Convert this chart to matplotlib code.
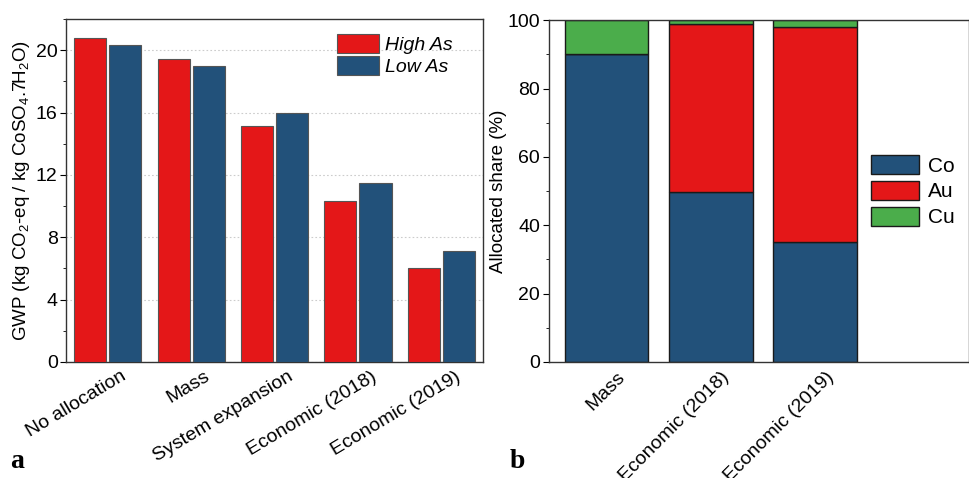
import matplotlib
matplotlib.use("Agg")
import matplotlib.pyplot as plt
import matplotlib.transforms as mtransforms
import numpy as np
from matplotlib.ticker import MultipleLocator

plt.rcParams['font.family'] = ['Liberation Sans', 'DejaVu Sans']
plt.rcParams['mathtext.fontset'] = 'custom'
plt.rcParams['mathtext.rm'] = 'Liberation Sans'
plt.rcParams['mathtext.it'] = 'Liberation Sans:italic'

# ---- data ----
methods_a = ["No allocation", "Mass", "System expansion", "Economic (2018)", "Economic (2019)"]
high_as = [20.8, 19.45, 15.15, 10.3, 6.0]
low_as = [20.3, 19.0, 16.0, 11.5, 7.1]

methods_b = ["Mass", "Economic (2018)", "Economic (2019)"]
share_co = [90.2, 49.6, 35.1]
share_au = [0.0, 49.2, 63.0]
share_cu = [9.8, 1.2, 1.9]

RED = "#E41718"
BLUE = "#22517A"
GREEN = "#4BAD4B"

fig = plt.figure(figsize=(9.7, 4.78), dpi=100)
fig.patch.set_facecolor("white")


def rotated_labels(ax, positions, labels, rotation, dx_px, dy_px, size):
    base = ax.get_xaxis_transform()
    off = mtransforms.ScaledTranslation(dx_px / 100, -dy_px / 100, fig.dpi_scale_trans)
    for p, lab in zip(positions, labels):
        ax.text(p, 0, lab, transform=base + off, rotation=rotation, ha="right", va="top",
                rotation_mode="anchor", fontsize=size, clip_on=False)


# ---- panel a ----
ax1 = fig.add_axes([0.068, 0.2427, 0.430, 0.7176])
x = np.arange(len(methods_a))
w = 0.385
ax1.bar(x - 0.21, high_as, w, color=RED, edgecolor="#555555", linewidth=0.8, label="High As", zorder=3)
ax1.bar(x + 0.21, low_as, w, color=BLUE, edgecolor="#555555", linewidth=0.8, label="Low As", zorder=3)
ax1.set_xlim(-0.5, 4.5)
ax1.set_ylim(0, 22)
ax1.yaxis.set_major_locator(MultipleLocator(4))
ax1.yaxis.set_minor_locator(MultipleLocator(2))
ax1.grid(axis="y", which="major", linestyle=(0, (1.5, 2)), color="#cccccc", linewidth=0.8, zorder=0)
ax1.set_xticks(x)
ax1.set_xticklabels([""] * len(x))
rotated_labels(ax1, x, methods_a, 31, 13, 6, 14)
ax1.tick_params(axis="x", length=0)
ax1.tick_params(axis="y", which="major", direction="out", length=4, labelsize=14, pad=2)
ax1.tick_params(axis="y", which="minor", direction="out", length=2.5)
ax1.set_ylabel("GWP (kg CO$_2$-eq / kg CoSO$_4$.7H$_2$O)", fontsize=13.5, labelpad=3)
for s in ax1.spines.values():
    s.set_linewidth(1.0)
    s.set_color("#333333")
ax1.legend(loc="upper right", bbox_to_anchor=(0.955, 0.99), frameon=False,
           prop={"style": "italic", "size": 14}, handlelength=2.15, handleheight=1.1,
           labelspacing=0.12, handletextpad=0.3, borderaxespad=0.2)

# ---- panel b ----
ax2 = fig.add_axes([0.566, 0.2427, 0.433, 0.715])
xb = np.arange(len(methods_b))
wb = 0.8
co = np.array(share_co)
au = np.array(share_au)
cu = np.array(share_cu)
ax2.bar(xb, co, wb, color=BLUE, edgecolor="#1a1a1a", linewidth=1.0, label="Co")
ax2.bar(xb, au, wb, bottom=co, color=RED, edgecolor="#1a1a1a", linewidth=1.0, label="Au")
ax2.bar(xb, cu, wb, bottom=co + au, color=GREEN, edgecolor="#1a1a1a", linewidth=1.0, label="Cu")
ax2.set_xlim(-0.555, 3.48)
ax2.set_ylim(0, 100)
ax2.yaxis.set_major_locator(MultipleLocator(20))
ax2.yaxis.set_minor_locator(MultipleLocator(10))
ax2.set_xticks(xb)
ax2.set_xticklabels([""] * len(xb))
rotated_labels(ax2, xb, methods_b, 45, 10, 7, 14)
ax2.tick_params(axis="x", length=0)
ax2.tick_params(axis="y", which="major", direction="out", length=4.5, labelsize=14, pad=2)
ax2.tick_params(axis="y", which="minor", direction="out", length=2.5)
ax2.set_ylabel("Allocated share (%)", fontsize=13.5, labelpad=0)
for s in ax2.spines.values():
    s.set_linewidth(1.0)
    s.set_color("#333333")
ax2.legend(loc="center right", bbox_to_anchor=(1.0, 0.5), frameon=False, fontsize=15,
           handlelength=2.3, handleheight=1.05, labelspacing=0.25, handletextpad=0.4,
           borderaxespad=0.3)

# panel letters
fig.text(0.010, 0.020, "a", fontsize=20, fontweight="bold", family="Liberation Serif")
fig.text(0.525, 0.020, "b", fontsize=20, fontweight="bold", family="Liberation Serif")

fig.savefig("out.png", dpi=100, facecolor="white")
